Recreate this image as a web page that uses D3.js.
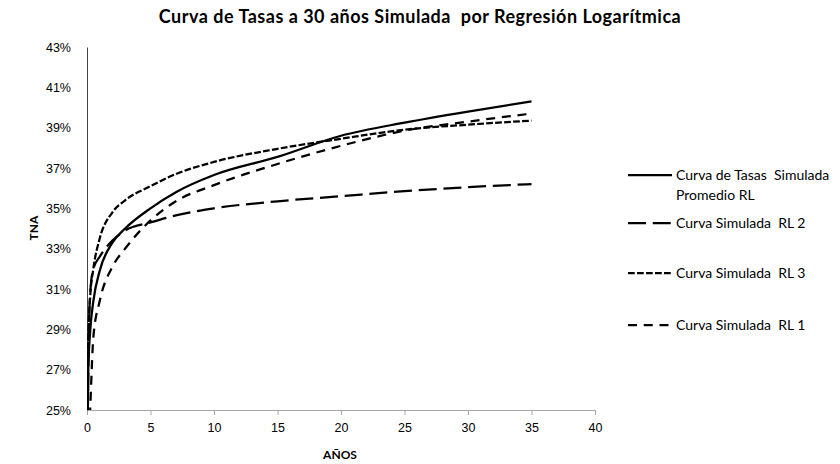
<!DOCTYPE html>
<html>
<head>
<meta charset="utf-8">
<script src="https://cdn.jsdelivr.net/npm/d3@7"></script>
<style>
  html, body { margin: 0; padding: 0; background: #fff; }
  svg { display: block; font-family: Lato, "Open Sans", sans-serif; }
  .tick text { font-size: 12.5px; fill: #000; }
</style>
</head>
<body>
<svg id="chart" width="840" height="464"></svg>
<script>
// plazos (años) y tasas (%)
const years = [0.05, 0.1, 0.25, 0.5, 1, 2, 3, 5, 7, 10, 15, 20, 25, 30, 35];
const promedio = [24.0, 27.0, 28.9, 30.4, 31.9, 33.3, 34.0, 35.0, 35.8, 36.65, 37.55, 38.6, 39.25, 39.8, 40.3];
const rl2 = [23.5, 27.0, 30.8, 32.0, 32.6, 33.4, 33.9, 34.3, 34.65, 35.0, 35.35, 35.6, 35.85, 36.05, 36.2];
const rl3 = [24.0, 28.5, 30.6, 32.0, 33.5, 34.8, 35.4, 36.1, 36.7, 37.3, 37.95, 38.45, 38.9, 39.15, 39.35];
const rl1 = [20.0, 22.5, 25.0, 28.6, 30.4, 32.1, 33.0, 34.4, 35.35, 36.15, 37.2, 38.1, 38.85, 39.3, 39.7];

const seriesNames = ["Curva de Tasas  Simulada|Promedio RL", "Curva Simulada  RL 2", "Curva Simulada  RL 3", "Curva Simulada  RL 1"];
const seriesValues = [promedio, rl2, rl3, rl1];
const dashes = [null, "18,6.75", "6.75,2.25", "9,6.75"];

const xTicks = [0, 5, 10, 15, 20, 25, 30, 35, 40];
const yTicks = [25, 27, 29, 31, 33, 35, 37, 39, 41, 43];

const svg = d3.select("#chart");
const L = 87, R = 595, T = 47, B = 410;

const x = d3.scaleLinear().domain([0, 40]).range([L, R]);
const y = d3.scaleLinear().domain([25, 43]).range([B, T]);

// título
svg.append("text")
  .attr("x", 420).attr("y", 23)
  .attr("text-anchor", "middle")
  .attr("font-weight", "bold").attr("font-size", 18)
  .attr("letter-spacing", 0.5)
  .style("white-space", "pre")
  .text("Curva de Tasas a 30 años Simulada  por Regresión Logarítmica");

// eje x (gris, ticks hacia afuera)
const gx = svg.append("g").attr("transform", `translate(0,${B})`)
  .call(d3.axisBottom(x).tickValues(xTicks).tickSize(5).tickPadding(8).tickFormat(d3.format("d")));
gx.select(".domain").attr("stroke", "#a6a6a6");
gx.selectAll(".tick line").attr("stroke", "#a6a6a6");
gx.selectAll(".tick text").attr("font-size", 13);

// eje y
const gy = svg.append("g").attr("transform", `translate(${L},0)`)
  .call(d3.axisLeft(y).tickValues(yTicks).tickSize(0).tickPadding(16).tickFormat((d) => d + "%"));
gy.select(".domain").attr("stroke", "#404040");
gy.selectAll(".tick text").attr("font-size", 13);

// rótulos de ejes
svg.append("text")
  .attr("transform", "translate(38,228) rotate(-90)")
  .attr("text-anchor", "middle")
  .attr("font-weight", "bold").attr("font-size", 12)
  .text("TNA");
svg.append("text")
  .attr("x", 340).attr("y", 459)
  .attr("text-anchor", "middle")
  .attr("font-weight", "bold").attr("font-size", 12)
  .text("AÑOS");

// curvas (recortadas al área del gráfico)
svg.append("clipPath").attr("id", "plot")
  .append("rect").attr("x", L).attr("y", T).attr("width", R - L).attr("height", B - T);

const line = d3.line()
  .x((d) => x(d[0])).y((d) => y(d[1]))
  .curve(d3.curveMonotoneX);

const gLines = svg.append("g").attr("clip-path", "url(#plot)");
seriesValues.forEach((vals, i) => {
  gLines.append("path")
    .datum(years.map((yr, k) => [yr, vals[k]]))
    .attr("d", line)
    .attr("fill", "none")
    .attr("stroke", "#000")
    .attr("stroke-width", 2.25)
    .attr("stroke-dasharray", dashes[i]);
});

// leyenda
const legendY = [175, 223, 273, 325];
const leg = svg.append("g");
seriesNames.forEach((name, i) => {
  leg.append("line")
    .attr("x1", 628).attr("x2", 672)
    .attr("y1", legendY[i]).attr("y2", legendY[i])
    .attr("stroke", "#000").attr("stroke-width", 2.25)
    .attr("stroke-dasharray", dashes[i]);
  const t = leg.append("text")
    .attr("x", 676).attr("y", legendY[i] + 5)
    .attr("font-size", 14)
    .style("white-space", "pre");
  name.split("|").forEach((part, k) => {
    t.append("tspan").attr("x", 676).attr("dy", k ? 20 : 0).text(part);
  });
});
</script>
</body>
</html>
